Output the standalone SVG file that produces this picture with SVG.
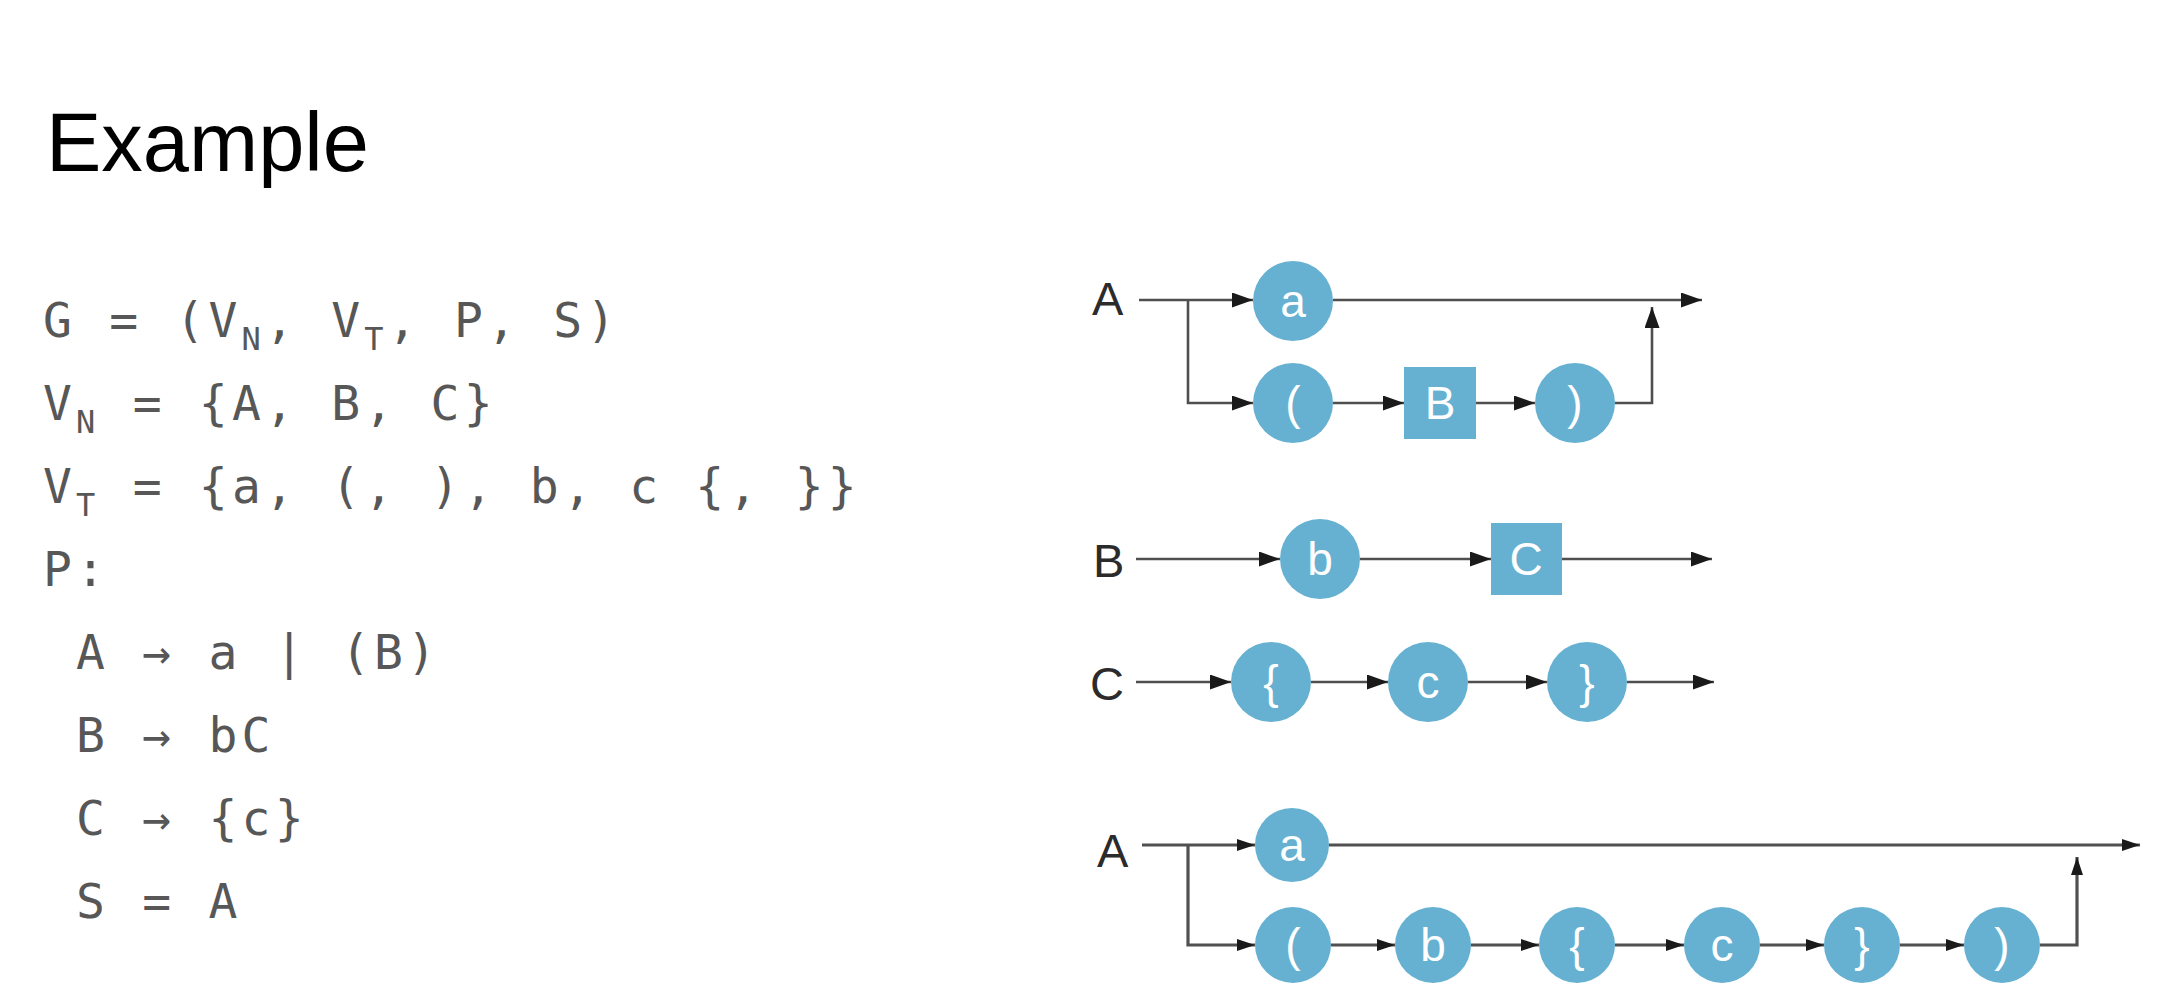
<svg xmlns="http://www.w3.org/2000/svg" width="2184" height="1000" viewBox="0 0 2184 1000">
<style>
.title{font-family:"Liberation Sans",Arial,sans-serif;font-size:83px;fill:#000}
.code{font-family:"DejaVu Sans Mono",monospace;font-size:48px;letter-spacing:4.2px;fill:#575757}
.sub{font-size:32px}
.lbl{font-family:"Liberation Sans",Arial,sans-serif;font-size:47px;fill:#2b2b2b}
.nt{font-family:"Liberation Sans",Arial,sans-serif;font-size:46px;fill:#fff;text-anchor:middle;dominant-baseline:central}
.node{fill:#66b1d1}
.ln{fill:none;stroke:#4f4f4f;stroke-width:2.6}
.ln2{fill:none;stroke:#505050;stroke-width:3.2}
</style>
<defs>
<marker id="ah" markerUnits="userSpaceOnUse" markerWidth="22" markerHeight="16" refX="21" refY="7.5" orient="auto"><path d="M0,0 L21,7.5 L0,15 z" fill="#1a1a1a"/></marker>
<marker id="ah2" markerUnits="userSpaceOnUse" markerWidth="20" markerHeight="14" refX="18" refY="6" orient="auto"><path d="M0,0 L18,6 L0,12 z" fill="#1a1a1a"/></marker>
</defs>
<rect width="2184" height="1000" fill="#fff"/>
<text class="title" x="46" y="171">Example</text>
<g id="grammar">
<text class="code" x="43" y="337" xml:space="preserve">G = (V<tspan class="sub" dy="13">N</tspan><tspan dy="-13">, V</tspan><tspan class="sub" dy="13">T</tspan><tspan dy="-13">, P, S)</tspan></text>
<text class="code" x="43" y="420" xml:space="preserve">V<tspan class="sub" dy="13">N</tspan><tspan dy="-13"> = {A, B, C}</tspan></text>
<text class="code" x="43" y="503" xml:space="preserve">V<tspan class="sub" dy="13">T</tspan><tspan dy="-13"> = {a, (, ), b, c {, }}</tspan></text>
<text class="code" x="43" y="586" xml:space="preserve">P:</text>
<text class="code" x="43" y="669" xml:space="preserve"> A → a | (B)</text>
<text class="code" x="43" y="752" xml:space="preserve"> B → bC</text>
<text class="code" x="43" y="835" xml:space="preserve"> C → {c}</text>
<text class="code" x="43" y="918" xml:space="preserve"> S = A</text>
</g>
<g id="connectors">
<path class="ln" d="M1139,300 H1253" marker-end="url(#ah)"/>
<path class="ln" d="M1188,300 V403 H1253" marker-end="url(#ah)"/>
<path class="ln" d="M1333,300 H1702" marker-end="url(#ah)"/>
<path class="ln" d="M1333,403 H1404" marker-end="url(#ah)"/>
<path class="ln" d="M1476,403 H1535" marker-end="url(#ah)"/>
<path class="ln" d="M1615,403 H1652 V307" marker-end="url(#ah)"/>
<path class="ln" d="M1136,559 H1280" marker-end="url(#ah)"/>
<path class="ln" d="M1360,559 H1491" marker-end="url(#ah)"/>
<path class="ln" d="M1562,559 H1712" marker-end="url(#ah)"/>
<path class="ln" d="M1136,682 H1231" marker-end="url(#ah)"/>
<path class="ln" d="M1311,682 H1388" marker-end="url(#ah)"/>
<path class="ln" d="M1468,682 H1547" marker-end="url(#ah)"/>
<path class="ln" d="M1627,682 H1714" marker-end="url(#ah)"/>
<path class="ln2" d="M1142,845 H1255" marker-end="url(#ah2)"/>
<path class="ln2" d="M1188,845 V945 H1255" marker-end="url(#ah2)"/>
<path class="ln2" d="M1329,845 H2140" marker-end="url(#ah2)"/>
<path class="ln2" d="M1331,945 H1395" marker-end="url(#ah2)"/>
<path class="ln2" d="M1471,945 H1539" marker-end="url(#ah2)"/>
<path class="ln2" d="M1615,945 H1684" marker-end="url(#ah2)"/>
<path class="ln2" d="M1760,945 H1824" marker-end="url(#ah2)"/>
<path class="ln2" d="M1900,945 H1964" marker-end="url(#ah2)"/>
<path class="ln2" d="M2040,945 H2077 V857" marker-end="url(#ah2)"/>
</g>
<g id="labels">
<text class="lbl" x="1092" y="315">A</text>
<text class="lbl" x="1093" y="577">B</text>
<text class="lbl" x="1090" y="700">C</text>
<text class="lbl" x="1097" y="867">A</text>
</g>
<g id="n-a1"><circle class="node" cx="1293" cy="301" r="40"/><text class="nt" x="1293" y="301">a</text></g>
<g id="n-lp1"><circle class="node" cx="1293" cy="403" r="40"/><text class="nt" x="1293" y="403">(</text></g>
<g id="n-B1"><rect class="node" x="1404" y="367" width="72" height="72"/><text class="nt" x="1440" y="403">B</text></g>
<g id="n-rp1"><circle class="node" cx="1575" cy="403" r="40"/><text class="nt" x="1575" y="403">)</text></g>
<g id="n-b2"><circle class="node" cx="1320" cy="559" r="40"/><text class="nt" x="1320" y="559">b</text></g>
<g id="n-C2"><rect class="node" x="1491" y="523" width="71" height="72"/><text class="nt" x="1526" y="559">C</text></g>
<g id="n-lb3"><circle class="node" cx="1271" cy="682" r="40"/><text class="nt" x="1271" y="682">{</text></g>
<g id="n-c3"><circle class="node" cx="1428" cy="682" r="40"/><text class="nt" x="1428" y="682">c</text></g>
<g id="n-rb3"><circle class="node" cx="1587" cy="682" r="40"/><text class="nt" x="1587" y="682">}</text></g>
<g id="n-a4"><circle class="node" cx="1292" cy="845" r="37"/><text class="nt" x="1292" y="845">a</text></g>
<g id="n-lp4"><circle class="node" cx="1293" cy="945" r="38"/><text class="nt" x="1293" y="945">(</text></g>
<g id="n-b4"><circle class="node" cx="1433" cy="945" r="38"/><text class="nt" x="1433" y="945">b</text></g>
<g id="n-lb4"><circle class="node" cx="1577" cy="945" r="38"/><text class="nt" x="1577" y="945">{</text></g>
<g id="n-c4"><circle class="node" cx="1722" cy="945" r="38"/><text class="nt" x="1722" y="945">c</text></g>
<g id="n-rb4"><circle class="node" cx="1862" cy="945" r="38"/><text class="nt" x="1862" y="945">}</text></g>
<g id="n-rp4"><circle class="node" cx="2002" cy="945" r="38"/><text class="nt" x="2002" y="945">)</text></g>
</svg>
